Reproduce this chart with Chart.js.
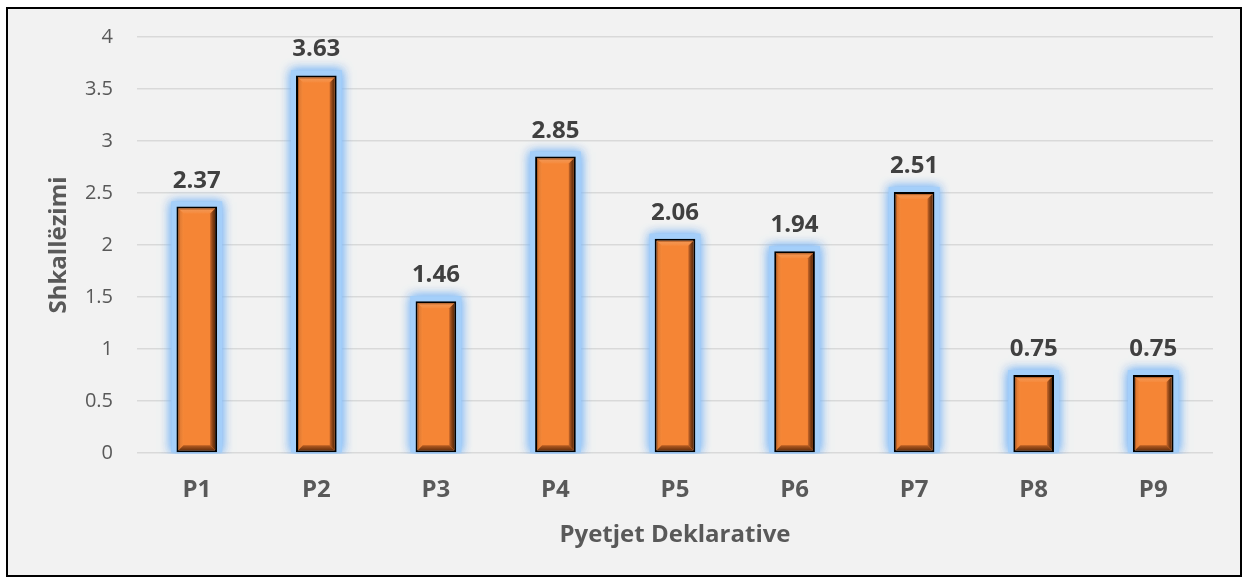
<!DOCTYPE html>
<html lang="sq">
  <head>
    <meta charset="UTF-8" />
    <title>Shkallëzimi - Pyetjet Deklarative</title>
    <style>
      html, body {
        margin: 0;
        padding: 0;
        background: #ffffff;
      }
      #wrap {
        width: 1244px;
        height: 580px;
      }
    </style>
  </head>
  <body>
    <div id="wrap">
      <canvas id="scoreChart" width="1244" height="580"></canvas>
    </div>
    <script src="https://cdn.jsdelivr.net/npm/chart.js"></script>
    <script>
      // values per declarative question
      const categories = ["P1", "P2", "P3", "P4", "P5", "P6", "P7", "P8", "P9"];
      const scores = [2.37, 3.63, 1.46, 2.85, 2.06, 1.94, 2.51, 0.75, 0.75];
      const yMin = 0;
      const yMax = 4;
      const yStep = 0.5;

      const FONT = "'Open Sans', 'DejaVu Sans', sans-serif";
      const barOrange = "#f58535";

      // frame + light grey panel behind everything
      const framePlugin = {
        id: "frame",
        beforeDraw(chart) {
          const ctx = chart.ctx;
          ctx.save();
          ctx.fillStyle = "#ffffff";
          ctx.fillRect(0, 0, chart.width, chart.height);
          ctx.fillStyle = "#f2f2f2";
          ctx.fillRect(7, 8, 1234, 568);
          ctx.strokeStyle = "#000000";
          ctx.lineWidth = 2;
          ctx.strokeRect(7, 8, 1234, 568);
          ctx.restore();
        },
      };

      // soft blue glow around each bar, bevel on top, value above
      const barDecor = {
        id: "barDecor",
        beforeDatasetsDraw(chart) {
          const ctx = chart.ctx;
          const area = chart.chartArea;
          const meta = chart.getDatasetMeta(0);
          ctx.save();
          ctx.beginPath();
          ctx.rect(area.left, 0, area.right - area.left, area.bottom + 1);
          ctx.clip();
          meta.data.forEach((bar) => {
            const p = bar.getProps(["x", "y", "base", "width"], true);
            const l = p.x - p.width / 2;
            ctx.shadowColor = "rgba(130, 185, 245, 1)";
            ctx.shadowBlur = 10;
            ctx.fillStyle = "rgba(165, 208, 250, 0.95)";
            for (let k = 0; k < 2; k++) {
              ctx.fillRect(l - 5, p.y - 5, p.width + 10, p.base - p.y + 5);
            }
          });
          ctx.restore();
        },
        afterDatasetsDraw(chart) {
          const ctx = chart.ctx;
          const meta = chart.getDatasetMeta(0);
          const values = chart.data.datasets[0].data;
          ctx.save();
          meta.data.forEach((bar, i) => {
            const p = bar.getProps(["x", "y", "base", "width"], true);
            const x0 = p.x - p.width / 2 + 2;
            const x1 = p.x + p.width / 2 - 2;
            const y0 = p.y + 2;
            const y1 = p.base - 2;
            const b = 5;

            const poly = (pts, fill) => {
              ctx.beginPath();
              ctx.moveTo(pts[0][0], pts[0][1]);
              for (let j = 1; j < pts.length; j++) ctx.lineTo(pts[j][0], pts[j][1]);
              ctx.closePath();
              ctx.fillStyle = fill;
              ctx.fill();
            };

            // top bevel
            let g = ctx.createLinearGradient(0, y0, 0, y0 + b);
            g.addColorStop(0, "#a9561e");
            g.addColorStop(0.35, "#f3944f");
            g.addColorStop(1, "#f68a3c");
            poly([[x0, y0], [x1, y0], [x1 - b, y0 + b], [x0 + b, y0 + b]], g);

            // left bevel
            g = ctx.createLinearGradient(x0, 0, x0 + b, 0);
            g.addColorStop(0, "#9a4d19");
            g.addColorStop(0.3, "#e27b33");
            g.addColorStop(1, "#f58838");
            poly([[x0, y0], [x0 + b, y0 + b], [x0 + b, y1 - b], [x0, y1]], g);

            // right bevel
            g = ctx.createLinearGradient(x1 - b, 0, x1, 0);
            g.addColorStop(0, "#c8672a");
            g.addColorStop(0.6, "#7e3d12");
            g.addColorStop(1, "#5e2c0c");
            poly([[x1, y0], [x1, y1], [x1 - b, y1 - b], [x1 - b, y0 + b]], g);

            // bottom bevel
            g = ctx.createLinearGradient(0, y1 - b, 0, y1);
            g.addColorStop(0, "#b85d22");
            g.addColorStop(0.6, "#8a4315");
            g.addColorStop(1, "#6a320e");
            poly([[x0, y1], [x1, y1], [x1 - b, y1 - b], [x0 + b, y1 - b]], g);

            // value label
            ctx.fillStyle = "#404040";
            ctx.font = "bold 24px " + FONT;
            ctx.textAlign = "center";
            ctx.textBaseline = "alphabetic";
            ctx.fillText(values[i].toFixed(2), p.x, p.y - 19);
          });
          ctx.restore();
        },
      };

      const config = {
        type: "bar",
        data: {
          labels: categories,
          datasets: [
            {
              label: "Shkallëzimi",
              data: scores,
              backgroundColor: barOrange,
              borderColor: "#000000",
              borderWidth: 2,
              borderSkipped: false,
              barPercentage: 0.34,
              categoryPercentage: 1,
            },
          ],
        },
        options: {
          responsive: false,
          animation: false,
          devicePixelRatio: 1,
          layout: {
            padding: { left: 0, top: 37, right: 31, bottom: 0 },
          },
          plugins: {
            legend: { display: false },
            tooltip: { enabled: false },
          },
          scales: {
            x: {
              grid: { display: false, drawTicks: false },
              border: { display: false },
              ticks: {
                color: "#595959",
                font: { family: FONT, size: 24, weight: "bold" },
                padding: 23,
              },
              title: {
                display: true,
                text: "Pyetjet Deklarative",
                color: "#595959",
                font: { family: FONT, size: 24, weight: "bold" },
                padding: { top: 0, bottom: 30 },
              },
              afterFit(scale) {
                scale.height = 127;
              },
            },
            y: {
              min: yMin,
              max: yMax,
              grid: {
                color: "#d9d9d9",
                lineWidth: 1.5,
                drawTicks: false,
              },
              border: { display: false },
              ticks: {
                stepSize: yStep,
                color: "#595959",
                font: { family: FONT, size: 20 },
                padding: 24,
                callback: (value) => String(value),
              },
              title: {
                display: true,
                text: "Shkallëzimi",
                color: "#595959",
                font: { family: FONT, size: 24, weight: "bold" },
                padding: { top: 45, bottom: 0 },
              },
              afterFit(scale) {
                scale.width = 137;
              },
            },
          },
        },
        plugins: [framePlugin, barDecor],
      };

      const scoreChart = new Chart(document.getElementById("scoreChart"), config);
    </script>
  </body>
</html>
